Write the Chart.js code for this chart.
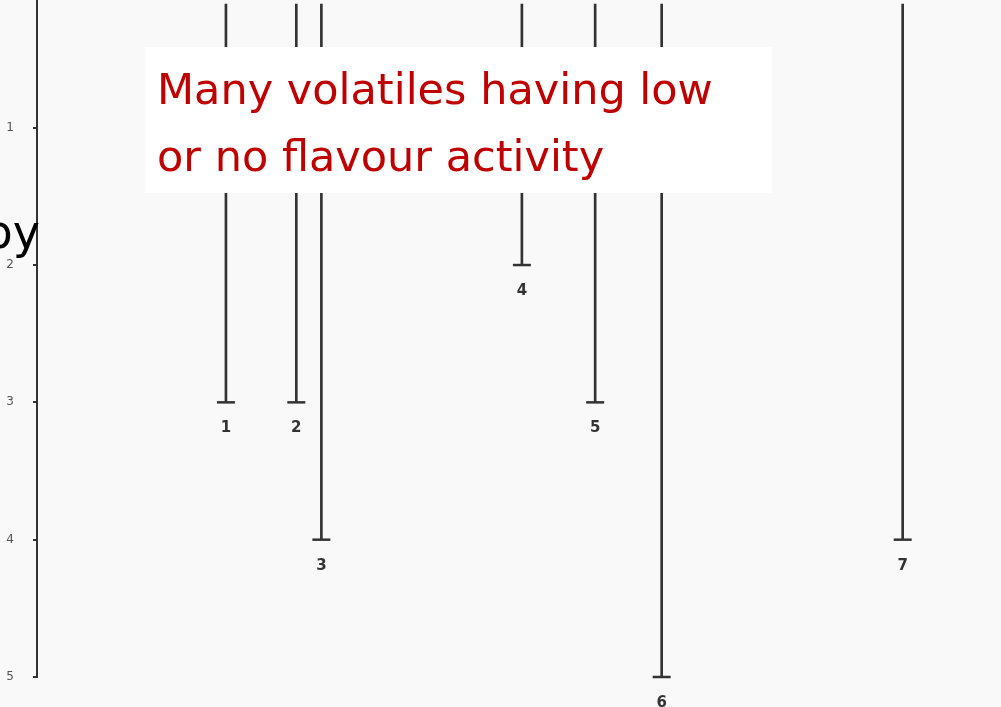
<!DOCTYPE html>
<html>
<head>
<meta charset="utf-8">
<script src="https://cdn.jsdelivr.net/npm/chart.js@4/dist/chart.umd.min.js"></script>
<style>
  html, body { margin: 0; padding: 0; background: #f9f9f9; }
  #wrap { width: 1001px; height: 707px; position: relative; }
</style>
</head>
<body>
<div id="wrap"><canvas id="chart"></canvas></div>
<script>
// peaks (position along the trace, depth on the 1-5 scale)
const peakLabels = ['1', '2', '3', '4', '5', '6', '7'];
const peakPos = [19.6, 26.9, 29.5, 50.3, 57.9, 64.8, 89.8];
const peakDepth = [3, 3, 4, 2, 3, 5, 4];
const yTicks = [1, 2, 3, 4, 5];
const yTop = 0.07;
const stemTop = 0.1;

const noteLines = ['Many volatiles having low', 'or no flavour activity'];
const cutText = 'py';

const ink = '#333333';

// background of the scanned page
const paperPlugin = {
    id: 'paper',
    beforeDraw(chart) {
        const ctx = chart.ctx;
        ctx.save();
        ctx.fillStyle = '#f9f9f9';
        ctx.fillRect(0, 0, chart.width, chart.height);
        ctx.restore();
    }
};

// numbers under each end tick
const peakLabelPlugin = {
    id: 'peakLabels',
    afterDatasetsDraw(chart) {
        const ctx = chart.ctx;
        const meta = chart.getDatasetMeta(1);
        ctx.save();
        ctx.fillStyle = ink;
        ctx.font = 'bold 15px "DejaVu Sans"';
        ctx.textAlign = 'center';
        ctx.textBaseline = 'middle';
        meta.data.forEach((pt, i) => {
            ctx.fillText(peakLabels[i], pt.x, pt.y + 26);
        });
        ctx.restore();
    }
};

// white note box with red text, plus the cut-off word on the left
const overlayPlugin = {
    id: 'overlay',
    afterDraw(chart) {
        const ctx = chart.ctx;
        ctx.save();
        ctx.fillStyle = '#ffffff';
        ctx.fillRect(145, 47, 627, 146);

        ctx.font = '100px "DejaVu Sans"';
        const w = ctx.measureText(noteLines[0]).width;
        const size = Math.round(100 * 551 / w);
        ctx.font = size + 'px "DejaVu Sans"';
        ctx.fillStyle = '#c00000';
        ctx.textAlign = 'left';
        ctx.textBaseline = 'alphabetic';
        ctx.fillText(noteLines[0], 157, 104);
        ctx.fillText(noteLines[1], 157, 171);

        ctx.fillStyle = '#000000';
        ctx.font = '46px "DejaVu Sans"';
        ctx.textAlign = 'right';
        ctx.fillText(cutText, 40, 248);
        ctx.restore();
    }
};

new Chart(document.getElementById('chart'), {
    type: 'bar',
    data: {
        datasets: [
            {
                type: 'bar',
                data: peakPos.map((x, i) => ({ x: x, y: [stemTop, peakDepth[i]] })),
                backgroundColor: ink,
                barThickness: 2,
                borderWidth: 0
            },
            {
                type: 'scatter',
                data: peakPos.map((x, i) => ({ x: x, y: peakDepth[i] })),
                pointStyle: 'line',
                radius: 9,
                borderColor: ink,
                borderWidth: 2.5,
                clip: false
            }
        ]
    },
    options: {
        responsive: true,
        maintainAspectRatio: false,
        animation: false,
        layout: { autoPadding: false, padding: { top: 0, right: 0, bottom: 30, left: 0 } },
        plugins: {
            legend: { display: false },
            tooltip: { enabled: false }
        },
        scales: {
            x: {
                type: 'linear',
                offset: false,
                min: 0,
                max: 100,
                display: false
            },
            y: {
                type: 'linear',
                reverse: true,
                min: yTop,
                max: 5,
                afterBuildTicks(scale) {
                    scale.ticks = yTicks.map(v => ({ value: v }));
                },
                afterFit(scale) {
                    scale.width = 37;
                    scale.paddingTop = 0;
                    scale.paddingBottom = 0;
                },
                border: { display: true, color: ink, width: 2 },
                grid: {
                    drawOnChartArea: false,
                    drawTicks: true,
                    tickLength: 4,
                    color: ink,
                    lineWidth: 2
                },
                ticks: {
                    color: '#555555',
                    padding: 19,
                    font: { family: 'DejaVu Sans', size: 12 },
                    callback: v => String(v)
                }
            }
        }
    },
    plugins: [paperPlugin, peakLabelPlugin, overlayPlugin]
});
</script>
</body>
</html>
